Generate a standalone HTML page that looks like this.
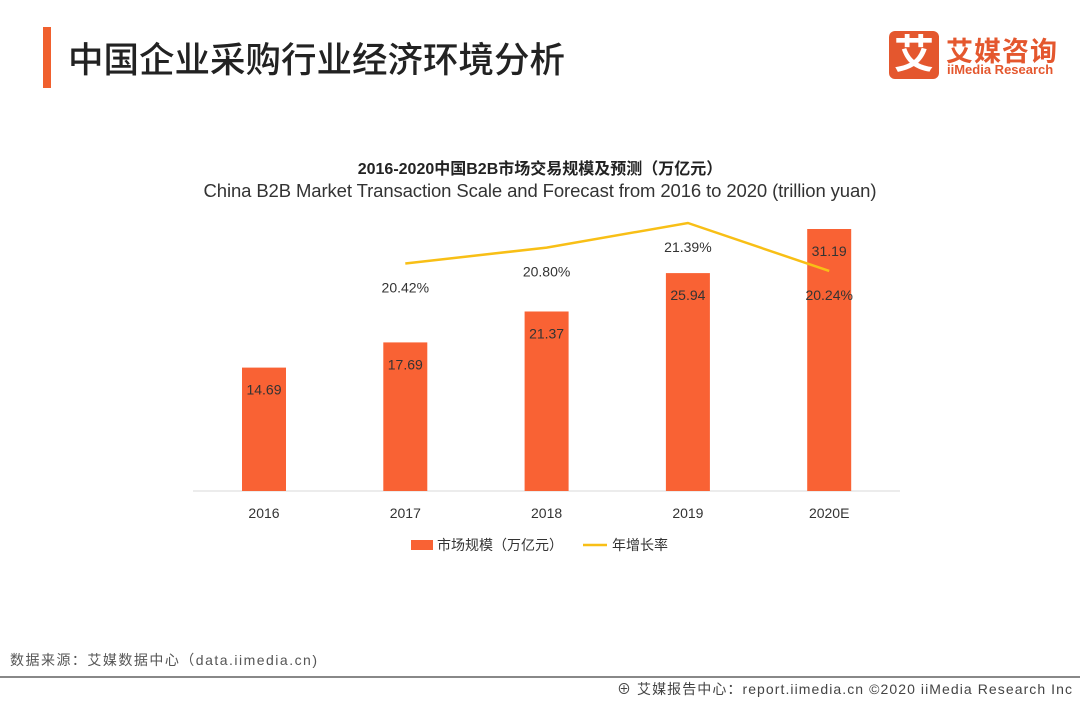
<!DOCTYPE html>
<html><head><meta charset="utf-8"><style>
body{margin:0;width:1080px;height:702px;background:#fff;position:relative;overflow:hidden;font-family:"Liberation Sans","Noto Sans CJK SC",sans-serif}
.a{position:absolute;white-space:nowrap}
</style></head><body>
<div class="a" style="left:43px;top:27px;width:8px;height:61px;background:#f0602e"></div>
<div class="a" style="left:68px;top:32px;font-size:35.5px;color:#222;font-weight:500">中国企业采购行业经济环境分析</div>
<div class="a" style="left:889px;top:31px;width:50px;height:48px;background:#e4572e;border-radius:6px;color:#fff;font-size:40px;line-height:48px;text-align:center;font-weight:bold">艾</div>
<div class="a" style="left:946px;top:30px;font-size:27px;color:#e4572e;font-weight:bold;letter-spacing:1px">艾媒咨询</div>
<div class="a" style="left:947px;top:62px;font-size:13px;color:#e4572e;font-weight:bold">iiMedia Research</div>
<svg class="a" style="left:0;top:0" width="1080" height="702">
<text x="540" y="174" text-anchor="middle" font-size="16" font-weight="bold" fill="#222">2016-2020中国B2B市场交易规模及预测（万亿元）</text>
<text x="540" y="197" text-anchor="middle" font-size="18.5" fill="#333" textLength="673">China B2B Market Transaction Scale and Forecast from 2016 to 2020 (trillion yuan)</text>
<line x1="193" y1="491" x2="900" y2="491" stroke="#d9d9d9"/>
<g id="bars"></g><g id="line"></g>
<rect x="411" y="540" width="22" height="10" fill="#f96234"/>
<text x="437" y="550" font-size="14" fill="#333">市场规模（万亿元）</text>
<line x1="583" y1="545" x2="607" y2="545" stroke="#f8bf16" stroke-width="2.5"/>
<text x="612" y="550" font-size="14" fill="#333">年增长率</text>
<line x1="0" y1="677" x2="1080" y2="677" stroke="#888" stroke-width="2"/>
<text x="10" y="665" font-size="14" fill="#555" textLength="307">数据来源：艾媒数据中心（data.iimedia.cn)</text>
<text x="617" y="694" font-size="14" fill="#444" textLength="455">⊕ 艾媒报告中心：report.iimedia.cn ©2020 iiMedia Research Inc</text>
</svg>
<script>
const years=["2016","2017","2018","2019","2020E"];
const scale=[14.69,17.69,21.37,25.94,31.19];
const growthYears=["2017","2018","2019","2020E"];
const growth=[20.42,20.80,21.39,20.24];
const NS="http://www.w3.org/2000/svg";
const xOf=i=>264+i*141.3;
const yBar=v=>491-v*8.4;
const yLine=v=>223+(21.39-v)*41.7;
const bars=document.getElementById('bars'),lg=document.getElementById('line');
function mk(t,a,p){const e=document.createElementNS(NS,t);for(const k in a)e.setAttribute(k,a[k]);p.appendChild(e);return e;}
years.forEach((y,i)=>{
 const x=xOf(i),top=yBar(scale[i]);
 const r=mk('rect',{x:x-22,y:top,width:44,height:491-top,fill:'#f96234'},bars);
 
 
 const t=mk('text',{x:x,y:top+27,'text-anchor':'middle','font-size':14,fill:'#333'},bars);t.textContent=scale[i].toFixed(2);
 
 
 const l=mk('text',{x:x,y:518,'text-anchor':'middle','font-size':14,fill:'#333'},bars);l.textContent=y;
 
 
});
const pts=growth.map((v,i)=>[xOf(years.indexOf(growthYears[i])),yLine(v)]);
const pl=mk('polyline',{points:pts.map(p=>p.join(',')).join(' '),fill:'none',stroke:'#f8bf16','stroke-width':2.5},lg);


pts.forEach((p,i)=>{
 const t=mk('text',{x:p[0],y:p[1]+29,'text-anchor':'middle','font-size':14,fill:'#333'},lg);t.textContent=growth[i].toFixed(2)+'%';
 
 
});
</script>
</body></html>
